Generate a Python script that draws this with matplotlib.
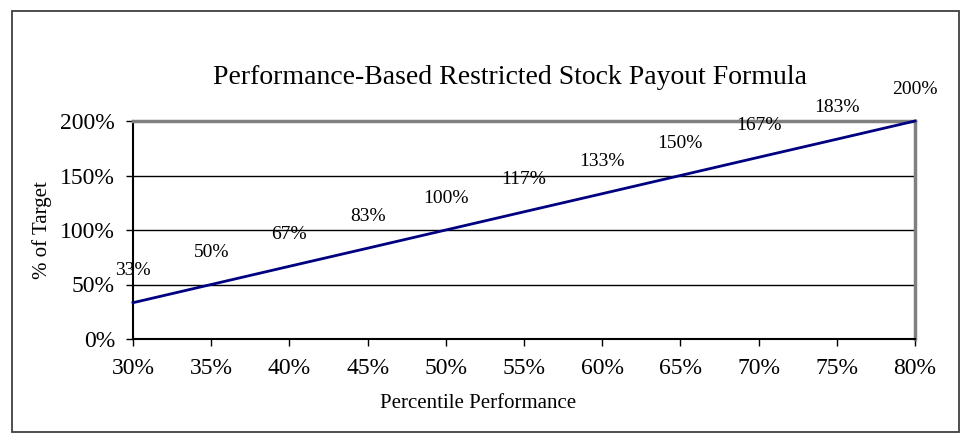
import matplotlib
matplotlib.use("Agg")
import matplotlib.pyplot as plt
from matplotlib.patches import Rectangle
from matplotlib.ticker import FuncFormatter

# data
percentile = [30, 35, 40, 45, 50, 55, 60, 65, 70, 75, 80]
payout = [33.3, 50, 66.7, 83.3, 100, 116.7, 133.3, 150, 166.7, 183.3, 200]
payout_labels = ["33%", "50%", "67%", "83%", "100%", "117%", "133%",
                 "150%", "167%", "183%", "200%"]

plt.rcParams["font.family"] = ["Liberation Serif", "DejaVu Serif"]

W, H = 975, 447
fig = plt.figure(figsize=(W / 100, H / 100), dpi=100)

# outer frame of the chart
fig.patches.append(Rectangle((12 / W, 1 - 432 / H), (959 - 12) / W, (432 - 11) / H,
                             transform=fig.transFigure, fill=False,
                             edgecolor="#404040", linewidth=1.3, zorder=0))

ax = fig.add_axes([133 / W, 1 - 339 / H, (915 - 133) / W, (339 - 121) / H])

ax.plot(percentile, payout, color="#000080", linewidth=2, zorder=3, clip_on=False)

for x, y, lab in zip(percentile, payout, payout_labels):
    ax.annotate(lab, (x, y), xytext=(0, 23), textcoords="offset points",
                ha="center", va="center", fontsize=14, color="black",
                annotation_clip=False)

ax.set_xlim(30, 80)
ax.set_ylim(0, 200)
ax.set_xticks(range(30, 81, 5))
ax.set_yticks(range(0, 201, 50))
ax.xaxis.set_major_formatter(FuncFormatter(lambda v, p: f"{v:.0f}%"))
ax.yaxis.set_major_formatter(FuncFormatter(lambda v, p: f"{v:.0f}%"))
ax.tick_params(axis="both", direction="out", length=5, width=1, colors="black",
               labelsize=17)
ax.tick_params(axis="x", pad=9)
ax.tick_params(axis="y", pad=8)

ax.yaxis.grid(True, color="black", linewidth=1)
ax.set_axisbelow(True)

ax.spines["left"].set_color("black")
ax.spines["left"].set_linewidth(1.5)
ax.spines["bottom"].set_color("black")
ax.spines["bottom"].set_linewidth(1.5)
ax.spines["top"].set_color("#808080")
ax.spines["top"].set_linewidth(2.5)
ax.spines["right"].set_color("#808080")
ax.spines["right"].set_linewidth(2.5)

fig.text(510 / W, 1 - 78 / H, "Performance-Based Restricted Stock Payout Formula",
         ha="center", va="center", fontsize=20)
fig.text(42 / W, 1 - 230 / H, "% of Target", ha="center", va="center",
         rotation=90, fontsize=15)
fig.text(478 / W, 1 - 404 / H, "Percentile Performance", ha="center", va="center",
         fontsize=15)

fig.savefig("out.png", dpi=100)
